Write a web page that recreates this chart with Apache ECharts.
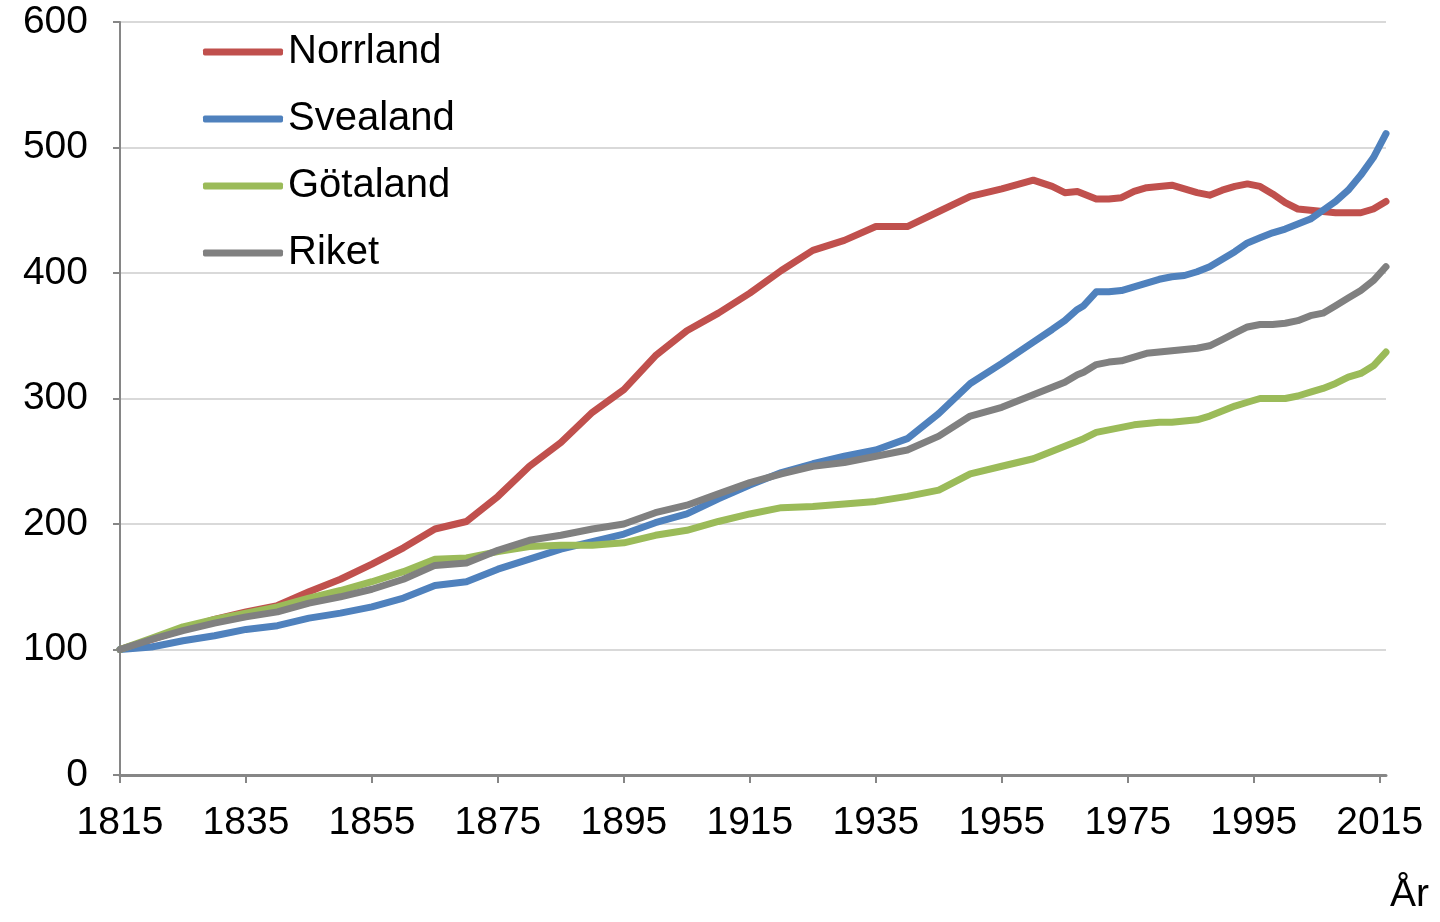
<html style="width: 100%; height: 100%">
<head>
    <meta charset="utf-8">
</head>
<script src="https://cdn.jsdelivr.net/npm/echarts@6/dist/echarts.min.js"></script>
<body style="width: 100%; height: 100%; margin: 0">
<div id="container" style="width: 100%; height: 100%"></div>

<script type="text/javascript">
    // index, 1815 = 100
    var years = [1815, 1820, 1825, 1830, 1835, 1840, 1845, 1850, 1855, 1860,
        1865, 1870, 1875, 1880, 1885, 1890, 1895, 1900, 1905, 1910,
        1915, 1920, 1925, 1930, 1935, 1940, 1945, 1950, 1955, 1960,
        1963, 1965, 1967, 1968, 1970, 1972, 1974, 1976, 1978, 1980,
        1982, 1984, 1986, 1988, 1990, 1992, 1994, 1996, 1998, 2000,
        2002, 2004, 2006, 2008, 2010, 2012, 2014, 2016];

    var norrland = [100, 108, 116, 124, 130, 135, 146, 156, 168, 181,
        196, 202, 222, 246, 265, 289, 307, 334, 354, 368,
        384, 402, 418, 426, 437, 437, 449, 461, 467, 474,
        469, 464, 465, 463, 459, 459, 460, 465, 468, 469,
        470, 467, 464, 462, 466, 469, 471, 469, 463, 456,
        451, 450, 449, 448, 448, 448, 451, 457];

    var svealand = [100, 102, 107, 111, 116, 119, 125, 129, 134, 141,
        151, 154, 164, 172, 180, 186, 192, 201, 208, 220,
        231, 241, 248, 254, 259, 268, 288, 312, 328, 345,
        355, 362, 371, 374, 385, 385, 386, 389, 392, 395,
        397, 398, 401, 405, 411, 417, 424, 428, 432, 435,
        439, 443, 450, 457, 466, 478, 492, 511];

    var gotaland = [100, 109, 118, 124, 129, 134, 141, 147, 154, 162,
        172, 173, 178, 182, 183, 183, 185, 191, 195, 202,
        208, 213, 214, 216, 218, 222, 227, 240, 246, 252,
        258, 262, 266, 268, 273, 275, 277, 279, 280, 281,
        281, 282, 283, 286, 290, 294, 297, 300, 300, 300,
        302, 305, 308, 312, 317, 320, 326, 337];

    var riket = [100, 108, 115, 121, 126, 130, 137, 142, 148, 156,
        167, 169, 179, 187, 191, 196, 200, 209, 215, 224,
        233, 240, 246, 249, 254, 259, 270, 286, 293, 303,
        309, 313, 319, 321, 327, 329, 330, 333, 336, 337,
        338, 339, 340, 342, 347, 352, 357, 359, 359, 360,
        362, 366, 368, 374, 380, 386, 394, 405];

    var xTicks = [1815, 1835, 1855, 1875, 1895, 1915, 1935, 1955, 1975, 1995, 2015];

    var font = 'Liberation Sans, Arial, sans-serif';

    function pairs(vals) {
        return years.map(function (y, i) { return [y, vals[i]]; });
    }

    function line(name, vals, color) {
        return {
            name: name,
            type: 'line',
            data: pairs(vals),
            symbol: 'none',
            lineStyle: {color: color, width: 7, join: 'round', cap: 'round'},
            itemStyle: {color: color}
        };
    }

    var dom = document.getElementById("container");
    var myChart = echarts.init(dom);

    var option = {
        animation: false,
        backgroundColor: '#ffffff',
        textStyle: {fontFamily: font},
        grid: {left: 120, right: 54, top: 22, bottom: 147},
        legend: {
            orient: 'vertical',
            left: 198,
            top: 27,
            icon: 'roundRect',
            itemWidth: 80,
            itemHeight: 7,
            itemGap: 27,
            textStyle: {fontFamily: font, fontSize: 40, color: '#000', lineHeight: 39},
            data: ['Norrland', 'Svealand', 'Götaland', 'Riket']
        },
        xAxis: {
            type: 'value',
            min: 1815,
            max: 2016,
            splitLine: {show: false},
            axisLine: {lineStyle: {color: '#868686', width: 3}},
            axisTick: {show: true, length: 8, lineStyle: {color: '#868686', width: 2}, customValues: xTicks},
            axisLabel: {
                customValues: xTicks,
                fontFamily: font, fontSize: 39, color: '#000', margin: 29,
                formatter: function (v) { return String(v); }
            }
        },
        yAxis: {
            type: 'value',
            min: 0,
            max: 600,
            interval: 100,
            splitLine: {lineStyle: {color: '#d9d9d9', width: 2}},
            axisLine: {show: true, lineStyle: {color: '#868686', width: 2}},
            axisTick: {show: true, length: 7, lineStyle: {color: '#868686', width: 2}},
            axisLabel: {fontFamily: font, fontSize: 39, color: '#000', margin: 32}
        },
        graphic: [{
            type: 'text',
            left: 1390,
            top: 876,
            style: {text: 'År', font: '39px ' + font, fill: '#000'}
        }],
        series: [
            line('Norrland', norrland, '#c0504d'),
            line('Svealand', svealand, '#4f81bd'),
            line('Götaland', gotaland, '#9bbb59'),
            line('Riket', riket, '#808080')
        ]
    };
    myChart.setOption(option);
</script>
</body>
</html>
